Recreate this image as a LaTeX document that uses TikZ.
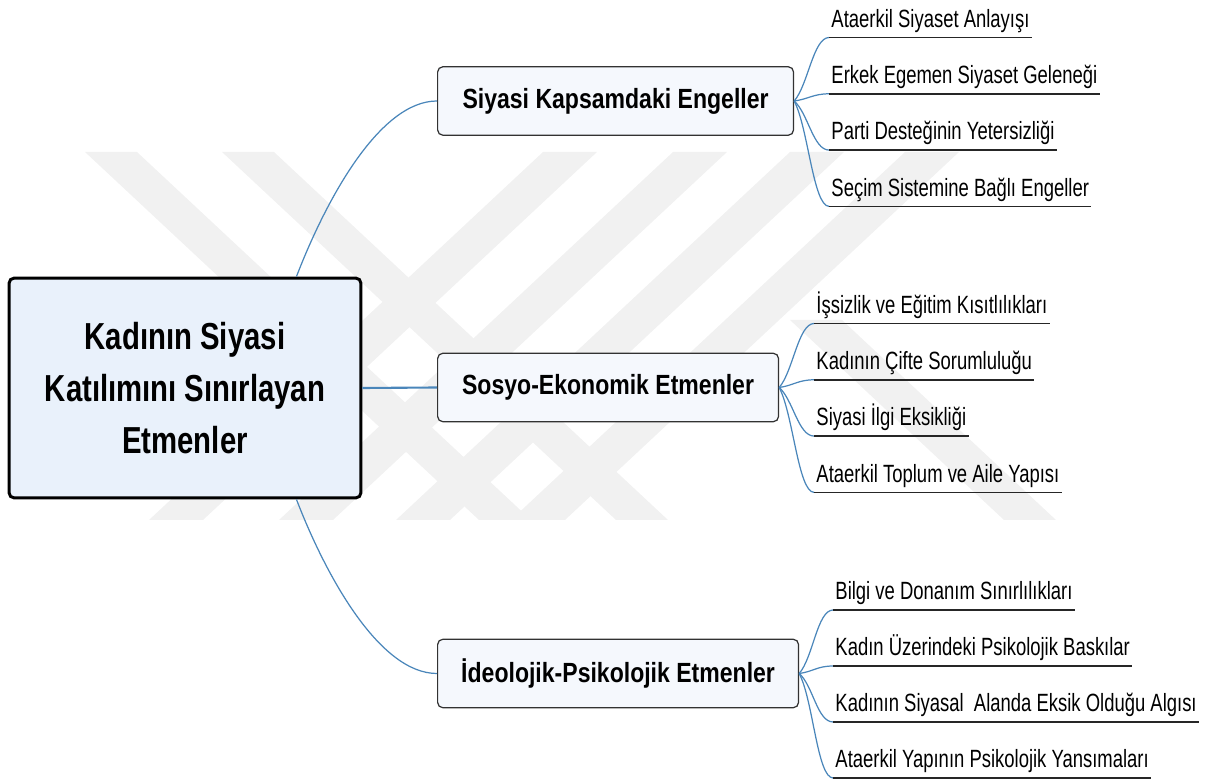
\documentclass[tikz,border=0pt]{standalone}
\usepackage{fontspec}
\setmainfont{Liberation Sans}
\newfontfamily\rootfont[FakeStretch=0.78]{Liberation Sans}
\newfontfamily\branchfont[FakeStretch=0.83]{Liberation Sans}
\newfontfamily\leaffont[FakeStretch=0.74]{Liberation Sans}
\usetikzlibrary{calc}
\definecolor{rootfill}{RGB}{233,241,251}
\definecolor{branchfill}{RGB}{245,248,253}
\definecolor{linkblue}{RGB}{74,134,186}
\definecolor{wmgray}{RGB}{241,241,241}
\definecolor{boxline}{RGB}{50,50,50}

\begin{document}
\begin{tikzpicture}[x=0.02cm,y=-0.02cm,
  rootbox/.style={draw=black,line width=1.7pt,fill=rootfill,rounded corners=3pt,
    minimum width=7.04cm,minimum height=4.4cm,align=center,
    font=\rootfont\bfseries\fontsize{21.4}{29.5}\selectfont},
  branchbox/.style={draw=boxline,line width=0.7pt,fill=branchfill,rounded corners=3pt,
    minimum height=1.37cm,anchor=west,
    font=\branchfont\bfseries\fontsize{15.8}{19}\selectfont},
  leaf/.style={anchor=south west,inner xsep=1.1pt,inner ysep=2.7pt,
    text height=10pt,text depth=3pt,font=\leaffont\fontsize{14.2}{17}\selectfont},
  link/.style={draw=linkblue,line width=0.7pt},
  uline/.style={draw=black!85,line width=1pt},
  wm/.style={fill=wmgray}]
\useasboundingbox (0,0) rectangle (1205,780);

% watermark
\foreach \a in {85,222}
  \fill[wm] (\a,152) -- ++(52,0) -- ++(394,368) -- ++(-52,0) -- cycle;
\foreach \a in {543,673,790,905}
  \fill[wm] (\a,152) -- ++(54,0) -- ++(-394,368) -- ++(-54,0) -- cycle;
\fill[wm] (790,320) -- ++(52,0) -- ++(214,200) -- ++(-52,0) -- cycle;

\node[rootbox] (root) at (185,388) {Kadının Siyasi\\Katılımını Sınırlayan\\Etmenler};
\node[branchbox,minimum width=7.12cm] (sk) at (437,101) {Siyasi Kapsamdaki Engeller};
\node[branchbox,minimum width=6.82cm] (se) at (437,387.5) {Sosyo-Ekonomik Etmenler};
\node[branchbox,minimum width=7.22cm] (ip) at (437,673.5) {İdeolojik-Psikolojik Etmenler};

\draw[link] (root.45) .. controls +(30,-78) and +(-57,0) .. (sk.west);
\draw[link,line width=1.2pt] (root.east) -- (se.west);
\draw[link] (root.-45) .. controls +(30,78) and +(-57,0) .. (ip.west);

\foreach \txt [count=\i] in {Ataerkil Siyaset Anlayışı,Erkek Egemen Siyaset Geleneği,
    Parti Desteğinin Yetersizliği,Seçim Sistemine Bağlı Engeller}{
  \pgfmathsetmacro\dy{-63.5+56.3*(\i-1)}
  \node[leaf] (sk-\i) at ($(sk.east)+(35,\dy)$) {\txt};
  \draw[link] (sk.east) .. controls +(14,{0.25*\dy}) and +(-16,0) .. (sk-\i.south west);
  \draw[uline] (sk-\i.south west) -- (sk-\i.south east);
}
\foreach \txt [count=\i] in {İşsizlik ve Eğitim Kısıtlılıkları,Kadının Çifte Sorumluluğu,
    Siyasi İlgi Eksikliği,Ataerkil Toplum ve Aile Yapısı}{
  \pgfmathsetmacro\dy{-64+56.3*(\i-1)}
  \node[leaf] (se-\i) at ($(se.east)+(35,\dy)$) {\txt};
  \draw[link] (se.east) .. controls +(14,{0.25*\dy}) and +(-16,0) .. (se-\i.south west);
  \draw[uline] (se-\i.south west) -- (se-\i.south east);
}
\foreach \txt [count=\i] in {Bilgi ve Donanım Sınırlılıkları,Kadın Üzerindeki Psikolojik Baskılar,
    Kadının Siyasal\ \ Alanda Eksik Olduğu Algısı,Ataerkil Yapının Psikolojik Yansımaları}{
  \pgfmathsetmacro\dy{-63.5+56*(\i-1)}
  \node[leaf] (ip-\i) at ($(ip.east)+(34,\dy)$) {\txt};
  \draw[link] (ip.east) .. controls +(14,{0.25*\dy}) and +(-16,0) .. (ip-\i.south west);
  \draw[uline] (ip-\i.south west) -- (ip-\i.south east);
}
\end{tikzpicture}
\end{document}
